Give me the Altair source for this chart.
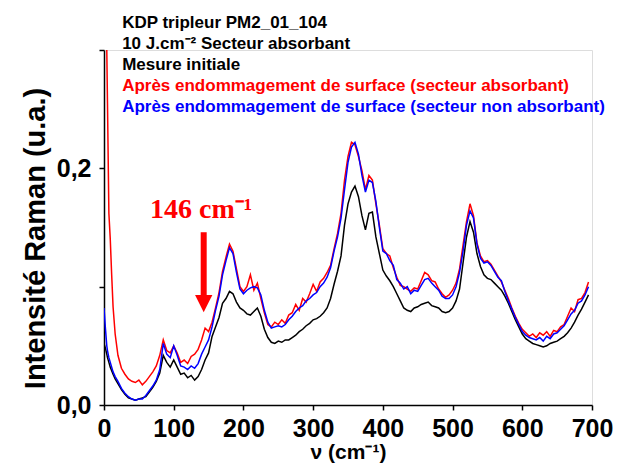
import altair as alt
import pandas as pd

wavenumber = [0, 2, 4, 5, 7, 9, 11, 13, 16,
              20, 25, 30, 35, 40, 45, 50, 55, 60, 65, 70, 75, 80, 85, 90, 95,
              100, 105, 110, 115, 120, 125, 130, 135, 140, 145, 150, 155, 160, 165, 170, 175, 180, 185, 190, 195,
              200, 205, 210, 215, 220, 225, 230, 235, 240, 245, 250, 255, 260, 265, 270, 275, 280, 285, 290, 295,
              300, 305, 310, 315, 320, 325, 330, 335, 340, 345, 350, 355, 360, 365, 370, 375, 380, 385, 390, 395,
              400, 405, 410, 415, 420, 425, 430, 435, 440, 445, 450, 455, 460, 465, 470, 475, 480, 485, 490, 495,
              500, 505, 510, 515, 520, 525, 530, 535, 540, 545, 550, 555, 560, 565, 570, 575, 580, 585, 590, 595,
              600, 605, 610, 615, 620, 625, 630, 635, 640, 645, 650, 655, 660, 665, 670, 675, 680, 685, 690, 695]

apres_absorbant = [0.35, 0.33, 0.30, 0.255, 0.162, 0.14, 0.11, 0.083, 0.06,
                   0.042, 0.031, 0.026, 0.022, 0.02, 0.019, 0.021, 0.017, 0.02, 0.024, 0.028, 0.033, 0.042, 0.055, 0.046, 0.044,
                   0.05, 0.044, 0.036, 0.038, 0.035, 0.041, 0.043, 0.047, 0.055, 0.065, 0.062, 0.07, 0.082, 0.095, 0.113, 0.125, 0.136, 0.13, 0.115, 0.1,
                   0.096, 0.1, 0.11, 0.097, 0.103, 0.09, 0.078, 0.068, 0.066, 0.07, 0.068, 0.072, 0.069, 0.076, 0.078, 0.085, 0.08, 0.09, 0.087, 0.094,
                   0.102, 0.096, 0.104, 0.107, 0.112, 0.118, 0.132, 0.145, 0.162, 0.19, 0.21, 0.222, 0.22, 0.21, 0.198, 0.182, 0.194, 0.19, 0.17, 0.152,
                   0.132, 0.128, 0.126, 0.116, 0.108, 0.101, 0.1, 0.098, 0.096, 0.099, 0.098, 0.105, 0.112, 0.11, 0.105, 0.104, 0.098, 0.094, 0.091, 0.093,
                   0.097, 0.103, 0.115, 0.135, 0.155, 0.17, 0.16, 0.137, 0.126, 0.121, 0.122, 0.119, 0.114, 0.109, 0.104, 0.097, 0.09, 0.082, 0.075, 0.069,
                   0.064, 0.061, 0.058, 0.06, 0.057, 0.061, 0.059, 0.062, 0.058, 0.063, 0.062, 0.066, 0.068, 0.075, 0.082, 0.079, 0.089, 0.09, 0.095, 0.104]

apres_non_absorbant = [0.082, 0.065, 0.05, 0.046, 0.04, 0.036, 0.032, 0.028, 0.024,
                       0.02, 0.014, 0.01, 0.007, 0.005, 0.004, 0.005, 0.005, 0.008, 0.012, 0.016, 0.021, 0.03, 0.052, 0.043, 0.04,
                       0.05, 0.042, 0.033, 0.032, 0.03, 0.033, 0.031, 0.035, 0.043, 0.049, 0.055, 0.066, 0.08, 0.092, 0.11, 0.122, 0.133, 0.128, 0.112, 0.098,
                       0.094, 0.097, 0.099, 0.1, 0.099, 0.093, 0.08, 0.07, 0.065, 0.066, 0.067, 0.066, 0.068, 0.072, 0.075, 0.079, 0.082, 0.084, 0.088, 0.09,
                       0.093, 0.095, 0.1, 0.103, 0.108, 0.116, 0.13, 0.142, 0.158, 0.182, 0.205, 0.218, 0.222, 0.212, 0.194, 0.18, 0.19, 0.188, 0.172, 0.15,
                       0.13, 0.128, 0.122, 0.118, 0.106, 0.103, 0.098, 0.1, 0.094, 0.097, 0.096, 0.101, 0.106, 0.107, 0.103, 0.1, 0.097, 0.092, 0.09, 0.09,
                       0.093, 0.1, 0.112, 0.13, 0.152, 0.164, 0.158, 0.136, 0.124, 0.12, 0.121, 0.118, 0.113, 0.108, 0.105, 0.096, 0.088, 0.081, 0.074, 0.068,
                       0.062, 0.059, 0.057, 0.056, 0.055, 0.057, 0.054, 0.058, 0.056, 0.06, 0.061, 0.064, 0.067, 0.072, 0.077, 0.08, 0.086, 0.088, 0.093, 0.1]

mesure_initiale = [0.052, 0.048, 0.043, 0.04, 0.036, 0.032, 0.029, 0.026, 0.022,
                   0.018, 0.013, 0.009, 0.006, 0.005, 0.004, 0.005, 0.006, 0.007, 0.011, 0.015, 0.02, 0.027, 0.042, 0.036, 0.032,
                   0.038, 0.032, 0.026, 0.027, 0.023, 0.025, 0.021, 0.024, 0.03, 0.038, 0.044, 0.058, 0.066, 0.074, 0.086, 0.09, 0.096, 0.094, 0.087, 0.082,
                   0.08, 0.077, 0.076, 0.079, 0.082, 0.075, 0.064, 0.057, 0.053, 0.052, 0.054, 0.053, 0.055, 0.055, 0.057, 0.059, 0.062, 0.064, 0.067, 0.069,
                   0.072, 0.073, 0.075, 0.078, 0.082, 0.09, 0.102, 0.113, 0.126, 0.152, 0.17, 0.18, 0.185, 0.176, 0.16, 0.148, 0.162, 0.163, 0.142, 0.128,
                   0.114, 0.109, 0.105, 0.1, 0.094, 0.088, 0.082, 0.08, 0.079, 0.082, 0.083, 0.085, 0.086, 0.087, 0.084, 0.083, 0.082, 0.079, 0.078, 0.079,
                   0.082, 0.088, 0.098, 0.12, 0.142, 0.155, 0.146, 0.128, 0.117, 0.11, 0.107, 0.106, 0.103, 0.1, 0.097, 0.092, 0.086, 0.079, 0.072, 0.066,
                   0.06, 0.056, 0.054, 0.052, 0.051, 0.05, 0.049, 0.05, 0.052, 0.053, 0.054, 0.056, 0.058, 0.061, 0.065, 0.07, 0.076, 0.081, 0.087, 0.093]

legend_lines = ["KDP tripleur PM2_01_104",
                "10 J.cm\u207b\u00b2 Secteur absorbant",
                "Mesure initiale",
                "Apr\u00e8s endommagement de surface (secteur absorbant)",
                "Apr\u00e8s endommagement de surface (secteur non absorbant)"]
legend_colors = ["black", "black", "black", "#ff0000", "#0000ff"]
legend_v = [26, 26, 26, 26, 26]
legend_y = [0.319, 0.301, 0.283, 0.265, 0.2473]

annot_text = ["146 cm\u207b\u00b9"]
annot_v = [66]
annot_y = [0.158]
arrow_v = [143]
arrow_top = [0.146]
arrow_bottom = [0.09]
arrow_tip = [0.0857]

x_scale = alt.Scale(domain=[0, 700], nice=False, zero=False)
y_scale = alt.Scale(domain=[0, 0.3], nice=False)

x_axis = alt.Axis(values=list(range(0, 701, 50)),
                  labelExpr="datum.value % 100 == 0 ? format(datum.value, 'd') : ''",
                  title="\u03bd (cm\u207b\u00b9)", grid=False,
                  labelFont="Liberation Sans", labelFontWeight="bold", labelFontSize=25,
                  labelColor="black", labelPadding=6, labelFlush=False,
                  tickColor="black", tickSize=5, tickWidth=1.5,
                  domainColor="black", domainWidth=1.5,
                  titleFont="Liberation Sans", titleFontWeight="bold", titleFontSize=21,
                  titleColor="black", titlePadding=0)
y_axis = alt.Axis(values=[0, 0.1, 0.2, 0.3],
                  labelExpr="datum.value == 0 || datum.value == 0.2 ? replace(format(datum.value, '.1f'), '.', ',') : ''",
                  title="Intensit\u00e9 Raman (u.a.)", grid=False,
                  labelFont="Liberation Sans", labelFontWeight="bold", labelFontSize=25,
                  labelColor="black", labelPadding=8,
                  tickColor="black", tickSize=5, tickWidth=1.5,
                  domainColor="black", domainWidth=1.5,
                  titleFont="Liberation Sans", titleFontWeight="bold", titleFontSize=29,
                  titleColor="black", titleX=-69, titleY=188, titleBaseline="middle",
                  titleAlign="center", titleAngle=270)

def series(values, color):
    df = pd.DataFrame({"v": wavenumber, "I": values})
    return alt.Chart(df).mark_line(color=color, strokeWidth=1.5, clip=True).encode(
        x=alt.X("v:Q", scale=x_scale, axis=x_axis),
        y=alt.Y("I:Q", scale=y_scale, axis=y_axis),
    )

black_line = series(mesure_initiale, "black")
red_line = series(apres_absorbant, "#ff0000")
blue_line = series(apres_non_absorbant, "#0000ff")

legend_df = pd.DataFrame({"text": legend_lines, "color": legend_colors, "v": legend_v, "I": legend_y})
legend = alt.Chart(legend_df).mark_text(align="left", baseline="alphabetic", font="Liberation Sans",
                                        fontWeight="bold", fontSize=17).encode(
    x=alt.X("v:Q", scale=x_scale), y=alt.Y("I:Q", scale=y_scale),
    text="text:N", color=alt.Color("color:N", scale=None))

annot_df = pd.DataFrame({"text": annot_text, "v": annot_v, "I": annot_y})
annot = alt.Chart(annot_df).mark_text(align="left", baseline="alphabetic", font="Liberation Serif",
                                      fontWeight="bold", fontSize=28, color="#ff0000").encode(
    x=alt.X("v:Q", scale=x_scale), y=alt.Y("I:Q", scale=y_scale), text="text:N")

arrow_df = pd.DataFrame({"v": arrow_v, "top": arrow_top, "bottom": arrow_bottom, "tip": arrow_tip})
shaft = alt.Chart(arrow_df).mark_rule(color="#ff0000", strokeWidth=6).encode(
    x=alt.X("v:Q", scale=x_scale), y=alt.Y("top:Q", scale=y_scale), y2="bottom:Q")
head = alt.Chart(arrow_df).mark_point(shape="M-1,-1L1,-1L0,1Z", filled=True, color="#ff0000",
                                      opacity=1, size=300).encode(
    x=alt.X("v:Q", scale=x_scale), y=alt.Y("tip:Q", scale=y_scale))

chart = alt.layer(black_line, red_line, blue_line, shaft, head, annot, legend).properties(
    width=488, height=355,
    autosize=alt.AutoSizeParams(type="none"),
    padding={"left": 96, "top": 42, "right": 25, "bottom": 61},
).configure_view(stroke=None).configure(background="white")

chart.save("out.html", embed_options={"renderer": "svg", "actions": False})
